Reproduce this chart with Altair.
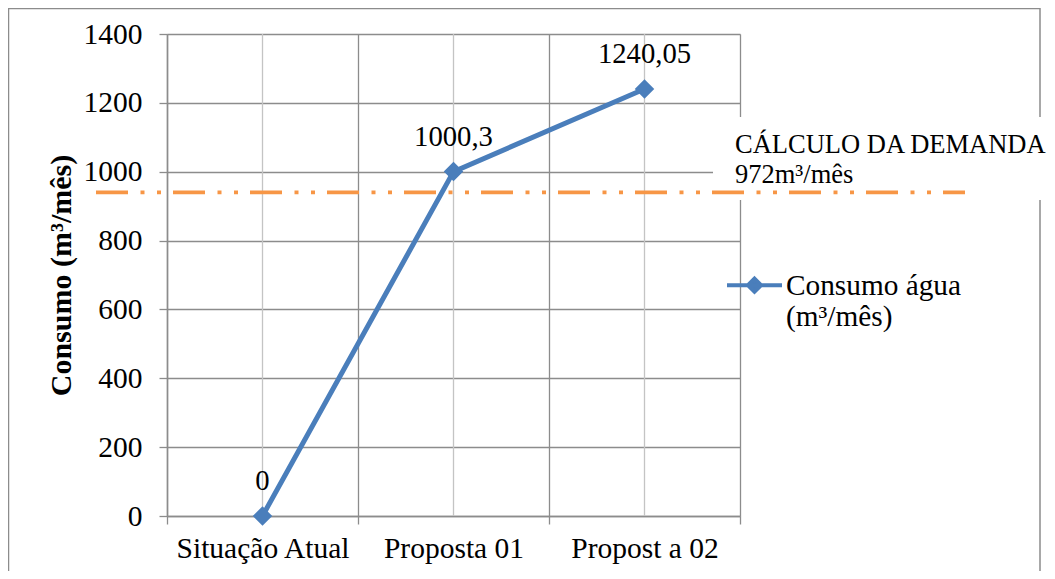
import altair as alt
import pandas as pd

# ---- data ----
categorias = ["Situação Atual", "Proposta 01", "Propost a 02"]
consumo = [0, 1000.3, 1240.05]
rotulos = ["0", "1000,3", "1240,05"]
serie = "Consumo água\n(m³/mês)"
demanda_linha = [940]
texto_demanda = ["CÁLCULO DA DEMANDA", "972m³/mês"]
y_ticks = [0, 200, 400, 600, 800, 1000, 1200, 1400]

FONT = "Liberation Serif"
BLUE = "#4A7EBB"
ORANGE = "#F79646"
GRID_DARK = "#8C8C8C"
GRID_LIGHT = "#C4C4C4"

df = pd.DataFrame({"categoria": categorias, "consumo": consumo,
                   "rotulo": rotulos, "serie": [serie] * len(categorias)})
df_dem = pd.DataFrame({"demanda": demanda_linha})
one = pd.DataFrame({"k": [0]})

xscale = alt.Scale(type="band", paddingInner=0, paddingOuter=0, domain=categorias)
yscale = alt.Scale(domain=[0, 1400], nice=False)

x_main = alt.X("categoria:N", sort=categorias, scale=xscale, bandPosition=0.5,
               axis=alt.Axis(title=None, tickBand="extent", bandPosition=0.5,
                             grid=True,
                             gridColor=GRID_DARK, gridWidth=1.3,
                             domainColor=GRID_DARK, domainWidth=1.5,
                             tickColor=GRID_DARK, tickSize=8, tickWidth=1.3,
                             labelPadding=24, labelAngle=0, labelFont=FONT,
                             labelAlign="center",
                             labelFontSize=29.5, labelColor="black"))
y_main = alt.Y("consumo:Q", scale=yscale,
               axis=alt.Axis(values=y_ticks, format="d", grid=True,
                             gridColor=GRID_DARK,
                             gridWidth=1.3, domainColor=GRID_DARK, domainWidth=1.5,
                             tickColor=GRID_DARK, tickSize=8, tickWidth=1.3,
                             labelPadding=17, labelFont=FONT, labelFontSize=29.5,
                             labelColor="black",
                             title="Consumo (m³/mês)", titleFont=FONT,
                             titleFontSize=30, titleFontWeight="bold",
                             titleColor="black", titleX=-97, titleY=241,
                             titleAngle=270, titleBaseline="alphabetic",
                             titleAlign="center"))

# outer chart border (decoration)
borda = alt.Chart(one).mark_rect(fill="transparent", stroke=GRID_DARK,
                                 strokeWidth=1.5).encode(
    x=alt.value(-158.5), x2=alt.value(873), y=alt.value(-25.5), y2=alt.value(700))

# light vertical gridlines at category centres
grade_centro = alt.Chart(df).mark_rule(color=GRID_LIGHT, strokeWidth=1.3).encode(
    x=alt.X("categoria:N", sort=categorias, scale=xscale, bandPosition=0.5))

# white box behind the demand annotation
caixa = alt.Chart(one).mark_rect(fill="white").encode(
    x=alt.value(546), x2=alt.value(885), y=alt.value(83), y2=alt.value(166))

regra = alt.Chart(df_dem).mark_rule(color=ORANGE, strokeWidth=3.8,
                                    strokeDash=[32, 12.5, 4, 12.5, 4, 12],
                                    strokeCap="butt").encode(
    y=alt.Y("demanda:Q", scale=yscale),
    x=alt.value(-71), x2=alt.value(798))

anot = alt.Chart(one).mark_text(text=texto_demanda, font=FONT, fontSize=26.5,
                                align="left", baseline="alphabetic",
                                lineHeight=30, color="black").encode(
    x=alt.value(568), y=alt.value(119))

linha = alt.Chart(df).mark_line(strokeWidth=5).encode(
    x=x_main, y=y_main,
    color=alt.Color("serie:N", scale=alt.Scale(range=[BLUE]),
                    legend=alt.Legend(
                        title=None, orient="none", legendX=558, legendY=231,
                        symbolType="M-1,-0.34L1,-0.34M0,-0.58L0.24,-0.34L0,-0.1L-0.24,-0.34Z",
                        symbolSize=3025, symbolStrokeWidth=4,
                        symbolFillColor=BLUE, symbolStrokeColor=BLUE,
                        labelExpr="split(datum.label, '\\n')",
                        labelFont=FONT, labelFontSize=29.3, labelColor="black",
                        labelBaseline="alphabetic", labelOffset=2,
                        labelLimit=0, padding=0)))

pontos = alt.Chart(df).mark_point(shape="diamond", filled=True, size=380,
                                  opacity=1, color=BLUE).encode(
    x=x_main, y=y_main)

rot = alt.Chart(df).mark_text(font=FONT, fontSize=28.7, dy=-26,
                              baseline="alphabetic", color="black").encode(
    x=x_main, y=y_main, text="rotulo:N")

chart = alt.layer(borda, grade_centro, caixa, regra, anot, linha, pontos, rot).properties(
    width=573, height=482,
    padding={"left": 159, "top": 26, "right": 307, "bottom": 55},
    autosize=alt.AutoSizeParams(type="none"),
).configure_view(stroke=None).configure(background="white")

chart.save("out.html", embed_options={"renderer": "svg", "actions": False})
